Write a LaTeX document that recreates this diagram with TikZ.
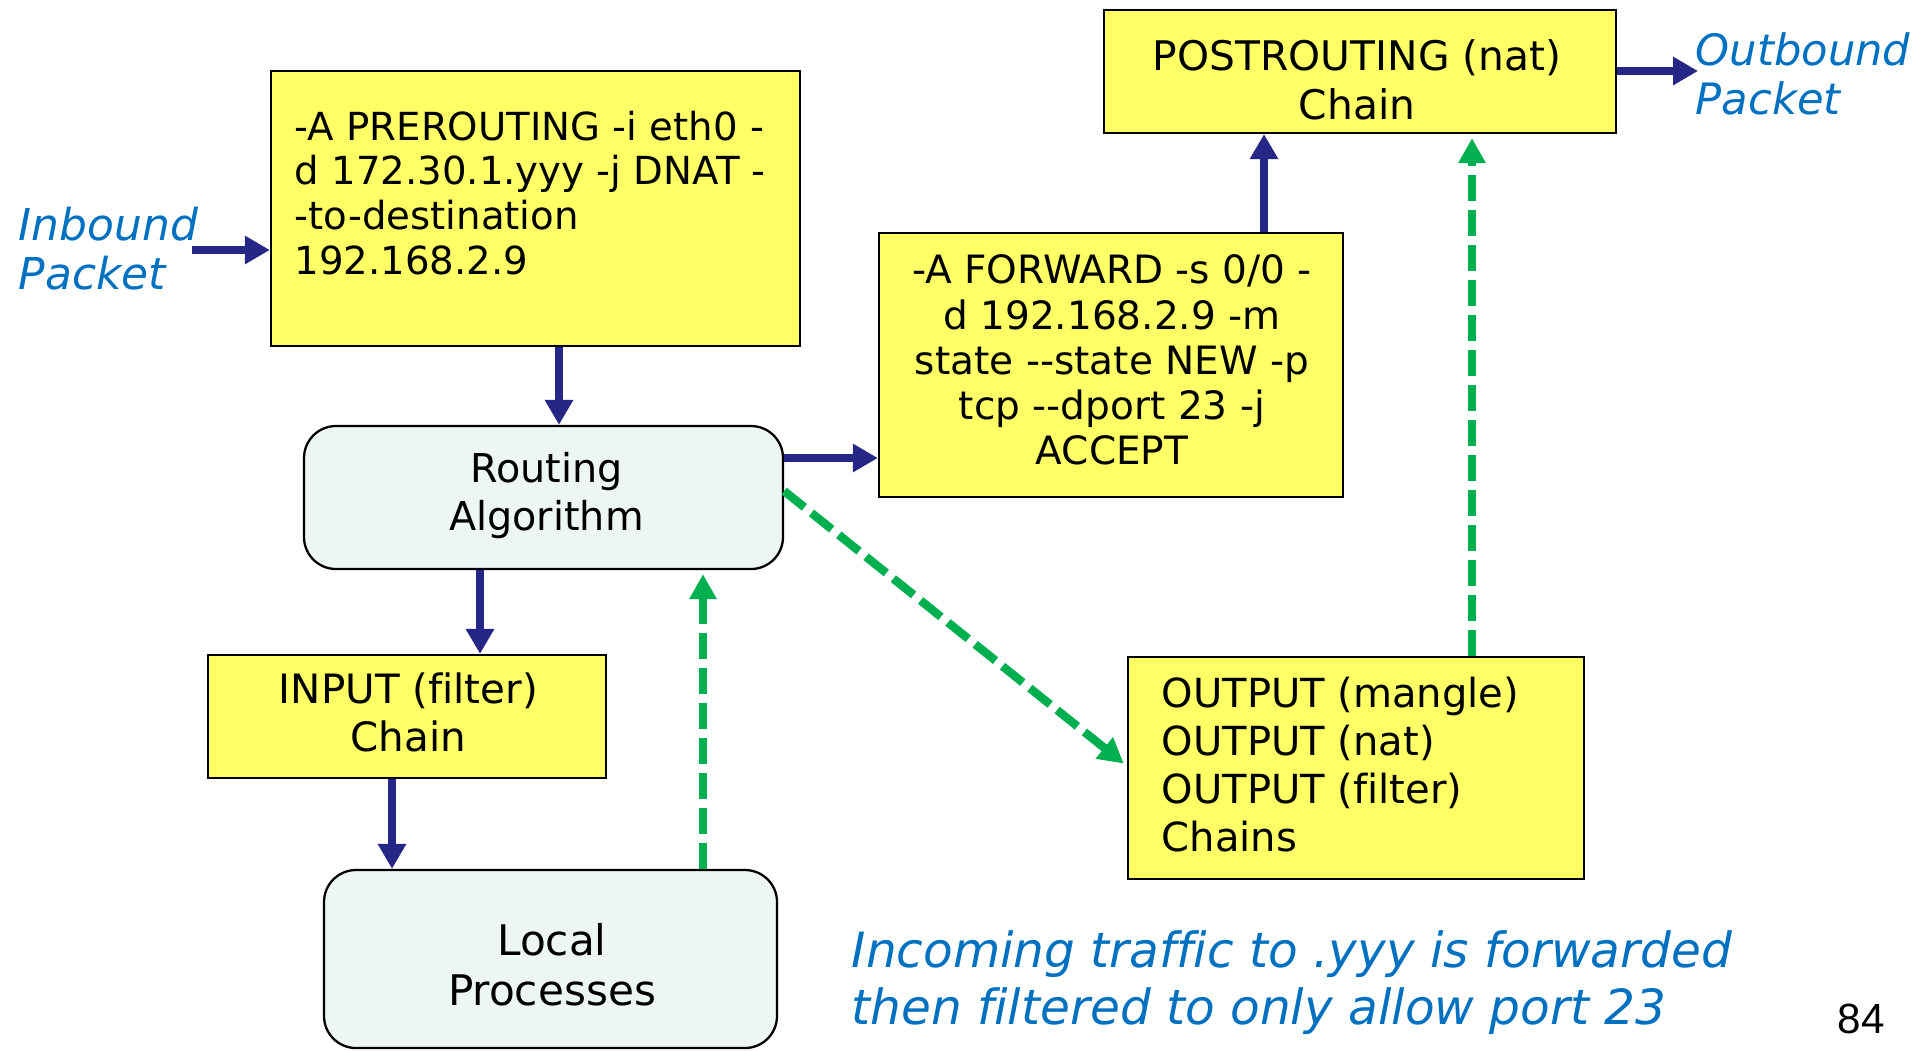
\documentclass[tikz,border=0pt]{standalone}
\usepackage{fontspec}
\setmainfont{DejaVu Sans}[Ligatures={TeXOff,NoCommon}]
\setsansfont{DejaVu Sans}[Ligatures={TeXOff,NoCommon}]
\newfontfamily\pagenumfont{Liberation Sans}
\usetikzlibrary{arrows.meta,calc}

\definecolor{chainyellow}{HTML}{FFFF66}
\definecolor{procfill}{HTML}{EDF6F0}
\definecolor{flownavy}{HTML}{262686}
\definecolor{flowgreen}{HTML}{00B050}
\definecolor{notecolor}{HTML}{0070C0}

\tikzset{
  chainbox/.style={draw=black, line width=0.65pt, fill=chainyellow, inner sep=0pt},
  procbox/.style={draw=black, line width=0.65pt, fill=procfill, rounded corners=0.32cm, inner sep=0pt},
  boxtext/.style={font=\fontsize{11}{13.6}\selectfont, align=center, inner sep=0pt},
  ruletext/.style={font=\fontsize{11}{12.75}\selectfont, align=left, inner sep=0pt, anchor=north west},
  flow/.style={draw=flownavy, line width=2.5pt, -{Triangle[length=0.25cm,width=0.27cm]}},
  altflow/.style={draw=flowgreen, line width=2.4pt, dash pattern=on 0.26cm off 0.09cm,
                  -{Triangle[length=0.25cm,width=0.26cm]}, shorten >=0.04cm},
  note/.style={text=notecolor, font=\fontsize{12.3}{14.2}\selectfont\itshape, align=left,
               inner sep=0pt, anchor=north west},
}

\begin{document}
\begin{tikzpicture}
  \useasboundingbox (0,0) rectangle (19.15,-10.50);

  % chain and process boxes
  \node[chainbox, minimum width=5.29cm, minimum height=2.75cm] (pre) at (5.355,-2.085) {};
  \node[chainbox, minimum width=5.12cm, minimum height=1.23cm] (post) at (13.60,-0.715) {};
  \node[chainbox, minimum width=4.64cm, minimum height=2.64cm] (fwd) at (11.11,-3.65) {};
  \node[procbox, minimum width=4.79cm, minimum height=1.43cm] (route) at (5.435,-4.975) {};
  \node[chainbox, minimum width=3.98cm, minimum height=1.23cm] (input) at (4.07,-7.165) {};
  \node[procbox, minimum width=4.53cm, minimum height=1.78cm] (local) at (5.505,-9.59) {};
  \node[chainbox, minimum width=4.56cm, minimum height=2.22cm] (out) at (13.56,-7.68) {};

  % box texts
  \node[ruletext] (pretext) at (2.94,-1.10)
    {-A PREROUTING -i eth0 -\\d 172.30.1.yyy -j DNAT -\\-to-destination\\192.168.2.9};
  \node[boxtext, font=\fontsize{11.6}{13.8}\selectfont] (posttext) at (13.57,-0.80)
    {POSTROUTING (nat)\\Chain};
  \node[boxtext, font=\fontsize{11.1}{12.85}\selectfont] (fwdtext) at (11.12,-3.60)
    {-A FORWARD -s 0/0 -\\d 192.168.2.9 -m\\state --state NEW -p\\tcp --dport 23 -j\\ACCEPT};
  \node[boxtext, font=\fontsize{11.3}{13.6}\selectfont] (routetext) at (5.465,-4.955)
    {Routing\\Algorithm};
  \node[boxtext, font=\fontsize{11.5}{13.6}\selectfont] (inputtext) at (4.085,-7.125)
    {INPUT (filter)\\Chain};
  \node[boxtext, font=\fontsize{12}{14.2}\selectfont] (localtext) at (5.52,-9.65)
    {Local\\Processes};
  \node[ruletext, font=\fontsize{11.4}{13.6}\selectfont] (outtext) at (11.61,-6.765)
    {OUTPUT (mangle)\\OUTPUT (nat)\\OUTPUT (filter)\\Chains};

  % packet labels and caption
  \node[note, font=\fontsize{12.5}{14.2}\selectfont\itshape] (inlabel) at (0.18,-2.06) {Inbound\\Packet};
  \node[note] (outlabel) at (16.95,-0.315) {Outbound\\Packet};
  \node[note, font=\fontsize{13.8}{16.2}\selectfont\itshape] (caption) at (8.51,-9.30)
    {Incoming traffic to .yyy is forwarded\\then filtered to only allow port 23};
  \node[inner sep=0pt, font=\pagenumfont\fontsize{12}{14}\selectfont] (pagenum) at (18.61,-10.19) {84};

  % connector end points
  \coordinate (inTail) at (1.92,-2.50);
  \coordinate (outTip) at (16.98,-0.71);

  % main packet path
  \draw[flow] (inTail) -- (inTail -| pre.west);
  \draw[flow] (5.59,0 |- pre.south) -- (5.59,0 |- route.north);
  \draw[flow] (route.east |- 0,-4.58) -- (fwd.west |- 0,-4.58);
  \draw[flow] (12.64,0 |- fwd.north) -- (12.64,0 |- post.south);
  \draw[flow] (post.east |- outTip) -- (outTip);
  \draw[flow] (4.80,0 |- route.south) -- (4.80,0 |- input.north);
  \draw[flow] (3.92,0 |- input.south) -- (3.92,0 |- local.north);

  % locally generated traffic
  \draw[altflow] (7.03,0 |- local.north) -- (7.03,0 |- route.south);
  \draw[altflow] (route.east |- 0,-4.91) -- (out.west |- 0,-7.66);
  \draw[altflow] (14.72,0 |- out.north) -- (14.72,0 |- post.south);
\end{tikzpicture}
\end{document}
